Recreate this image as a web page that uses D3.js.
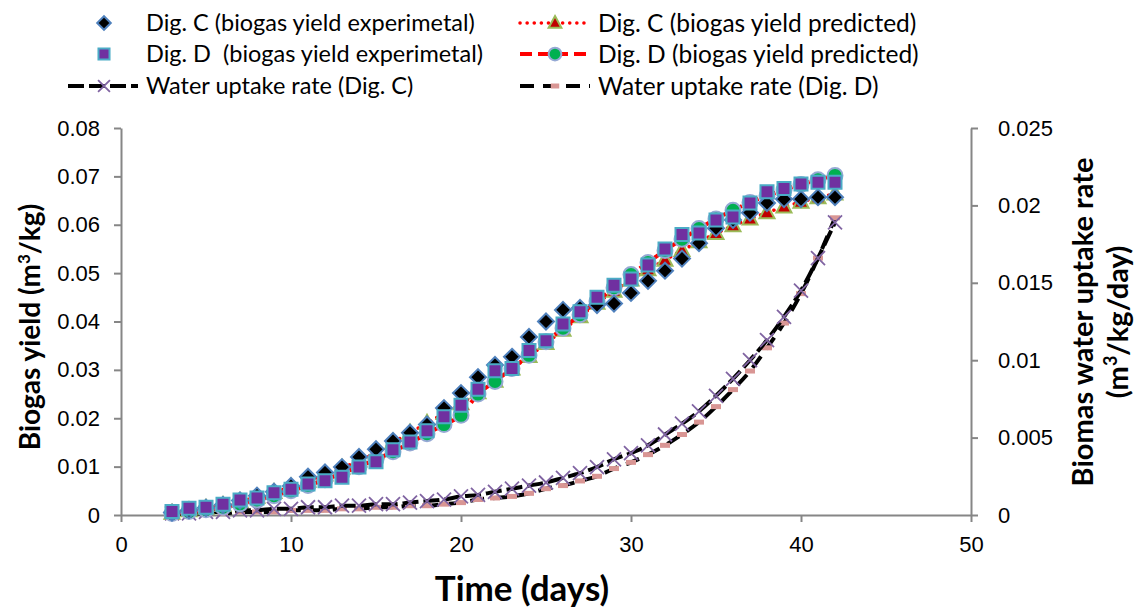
<!DOCTYPE html>
<html>
<head>
<meta charset="utf-8">
<script src="https://cdn.jsdelivr.net/npm/d3@7"></script>
<style>
  body { margin: 0; background: #fff; }
  svg { font-family: Lato, "Open Sans", sans-serif; }
  .axis path, .axis line { stroke: #868686; stroke-width: 2; }
  .axis text { font-size: 22px; fill: #000; }
  .legend text { white-space: pre; }
</style>
</head>
<body>
<svg id="chart"></svg>
<script>
// days 3..42
const days = d3.range(3, 43);

const digCExp = [0.0005, 0.001, 0.0015, 0.0021, 0.003, 0.004, 0.0048, 0.006, 0.0079, 0.0088,
  0.0099, 0.012, 0.0136, 0.0153, 0.017, 0.0187, 0.0221, 0.0252, 0.0285, 0.031,
  0.0327, 0.0368, 0.040, 0.0424, 0.0428, 0.0434, 0.0437, 0.0459, 0.0484, 0.0505,
  0.053, 0.0562, 0.0593, 0.061, 0.0625, 0.0645, 0.0653, 0.0653, 0.0657, 0.0657];

const digDExp = [0.0007, 0.0014, 0.0016, 0.0022, 0.0031, 0.0035, 0.0046, 0.0053, 0.0064, 0.0071,
  0.0078, 0.0099, 0.011, 0.0135, 0.0151, 0.0174, 0.0203, 0.0227, 0.026, 0.0298,
  0.0303, 0.034, 0.036, 0.0395, 0.042, 0.045, 0.0475, 0.0488, 0.0517, 0.055,
  0.058, 0.0583, 0.061, 0.0616, 0.0645, 0.0668, 0.0675, 0.0684, 0.0688, 0.0688];

const digCPred = [0.0004, 0.0009, 0.0014, 0.002, 0.0028, 0.0037, 0.0047, 0.0058, 0.007, 0.0083,
  0.0097, 0.0112, 0.0129, 0.015, 0.017, 0.019, 0.021, 0.023, 0.0253, 0.0277,
  0.0302, 0.0328, 0.0355, 0.0382, 0.041, 0.0438, 0.0463, 0.0486, 0.0507, 0.0527,
  0.0547, 0.0565, 0.0582, 0.0598, 0.0612, 0.0625, 0.0637, 0.0647, 0.0656, 0.0664];

const digDPred = [0.0003, 0.0007, 0.0011, 0.0016, 0.0023, 0.0031, 0.004, 0.005, 0.0061, 0.0073,
  0.0086, 0.01, 0.0115, 0.0131, 0.0149, 0.0168, 0.0187, 0.0206, 0.025, 0.0276,
  0.0303, 0.033, 0.0358, 0.0386, 0.0414, 0.0442, 0.047, 0.0497, 0.0522, 0.0547,
  0.057, 0.0592, 0.0612, 0.063, 0.0646, 0.066, 0.0672, 0.0683, 0.0693, 0.0702];

const waterC = [0.0001, 0.0001, 0.0002, 0.0002, 0.0003, 0.0003, 0.0004, 0.0004, 0.0005, 0.0005,
  0.0006, 0.0006, 0.0007, 0.0007, 0.0008, 0.0009, 0.001, 0.0012, 0.0013, 0.0015,
  0.0017, 0.0019, 0.0021, 0.0024, 0.0027, 0.0031, 0.0036, 0.004, 0.0045, 0.0052,
  0.0059, 0.0067, 0.0077, 0.0088, 0.01, 0.0113, 0.0128, 0.0145, 0.0166, 0.0189];

const waterD = [0.0, 0.0001, 0.0001, 0.0001, 0.0002, 0.0002, 0.0002, 0.0003, 0.0003, 0.0003,
  0.0004, 0.0004, 0.0005, 0.0005, 0.0006, 0.0006, 0.0007, 0.0008, 0.001, 0.0011,
  0.0012, 0.0014, 0.0017, 0.0019, 0.0022, 0.0025, 0.003, 0.0034, 0.0039, 0.0045,
  0.0052, 0.006, 0.007, 0.0081, 0.0093, 0.0108, 0.0124, 0.0143, 0.0166, 0.0192];

const xTicks = [0, 10, 20, 30, 40, 50];
const yTicks = [0, 0.01, 0.02, 0.03, 0.04, 0.05, 0.06, 0.07, 0.08];
const y2Ticks = [0, 0.005, 0.01, 0.015, 0.02, 0.025];

const legendLabels = [
  "Dig. C (biogas yield experimetal)", "Dig. C (biogas yield predicted)",
  "Dig. D  (biogas yield experimetal)", "Dig. D (biogas yield predicted)",
  "Water uptake rate (Dig. C)", "Water uptake rate (Dig. D)"
];

const width = 1141, height = 607;
const margin = {top: 128, right: 170, bottom: 92, left: 121};
const innerW = width - margin.left - margin.right;
const innerH = height - margin.top - margin.bottom;

const svg = d3.select("#chart").attr("width", width).attr("height", height);
const g = svg.append("g").attr("transform", `translate(${margin.left},${margin.top})`);

const x = d3.scaleLinear().domain([0, 50]).range([0, innerW]);
const y = d3.scaleLinear().domain([0, 0.08]).range([innerH, 0]);
const y2 = d3.scaleLinear().domain([0, 0.025]).range([innerH, 0]);

// axes
g.append("g").attr("class", "axis")
  .call(d3.axisLeft(y).tickValues(yTicks).tickSize(7).tickSizeOuter(0).tickPadding(14)
    .tickFormat(d => d === 0 ? "0" : d3.format(".2f")(d)));
g.append("g").attr("class", "axis").attr("transform", `translate(${innerW},0)`)
  .call(d3.axisRight(y2).tickValues(y2Ticks).tickSize(7).tickSizeOuter(0).tickPadding(20)
    .tickFormat(d => d === 0 ? "0" : String(+d.toFixed(3))));
g.append("g").attr("class", "axis").attr("transform", `translate(0,${innerH})`)
  .call(d3.axisBottom(x).tickValues(xTicks).tickSize(7).tickSizeOuter(0).tickPadding(14));

// marker shapes
const shapes = {
  diamond: s => `M0,${-s}L${s},0L0,${s}L${-s},0Z`,
  square: s => `M${-s},${-s}H${s}V${s}H${-s}Z`,
  triangle: s => `M0,${-s * 1.1}L${s},${s * 0.75}L${-s},${s * 0.75}Z`,
  circle: s => `M${s},0A${s},${s} 0 1,1 ${-s},0A${s},${s} 0 1,1 ${s},0Z`,
  cross: s => `M${-s},${-s}L${s},${s}M${-s},${s}L${s},${-s}`,
  dash: s => `M${-s},${-2.5}H${s}V2.5H${-s}Z`
};

const series = [
  {name: "waterD", values: waterD, scale: y2, line: {stroke: "#000", width: 4, dash: "14,9"},
   marker: {shape: "dash", size: 5, fill: "#d99694", stroke: "none", sw: 0}},
  {name: "waterC", values: waterC, scale: y2, line: {stroke: "#000", width: 4, dash: "16,5"},
   marker: {shape: "cross", size: 7, fill: "none", stroke: "#8064a2", sw: 1.8}},
  {name: "digCPred", values: digCPred, scale: y, line: {stroke: "#ff0000", width: 3.5, dash: "0.1,7", cap: "round"},
   marker: {shape: "triangle", size: 7.5, fill: "#c00000", stroke: "#9bbb59", sw: 2}},
  {name: "digDPred", values: digDPred, scale: y, line: {stroke: "#ff0000", width: 4, dash: "12,6"},
   marker: {shape: "circle", size: 7.5, fill: "#00b050", stroke: "#95a9d4", sw: 2}},
  {name: "digCExp", values: digCExp, scale: y, line: null,
   marker: {shape: "diamond", size: 8, fill: "#000", stroke: "#4f81bd", sw: 2}},
  {name: "digDExp", values: digDExp, scale: y, line: null,
   marker: {shape: "square", size: 6.5, fill: "#7030a0", stroke: "#4bacc6", sw: 2}}
];

series.forEach(s => {
  const pts = days.map((d, i) => [d, s.values[i]]);
  if (s.line) {
    g.append("path")
      .datum(pts)
      .attr("fill", "none")
      .attr("stroke", s.line.stroke)
      .attr("stroke-width", s.line.width)
      .attr("stroke-dasharray", s.line.dash)
      .attr("stroke-linecap", s.line.cap || "butt")
      .attr("d", d3.line().curve(d3.curveMonotoneX).x(p => x(p[0])).y(p => s.scale(p[1])));
  }
  g.append("g").selectAll("path")
    .data(pts)
    .join("path")
      .attr("transform", p => `translate(${x(p[0])},${s.scale(p[1])})`)
      .attr("d", shapes[s.marker.shape](s.marker.size))
      .attr("fill", s.marker.fill)
      .attr("stroke", s.marker.stroke)
      .attr("stroke-width", s.marker.sw);
});

// axis titles
svg.append("text")
  .attr("transform", `translate(40,327) rotate(-90)`)
  .attr("text-anchor", "middle").attr("font-size", 28).attr("font-weight", "bold")
  .html('Biogas yield (m<tspan baseline-shift="super" font-size="17">3</tspan>/kg)');
svg.append("text")
  .attr("transform", `translate(1093,322) rotate(-90)`)
  .attr("text-anchor", "middle").attr("font-size", 29).attr("font-weight", "bold")
  .text("Biomas water uptake rate");
svg.append("text")
  .attr("transform", `translate(1128,322) rotate(-90)`)
  .attr("text-anchor", "middle").attr("font-size", 29).attr("font-weight", "bold")
  .html('(m<tspan baseline-shift="super" font-size="18">3</tspan>/kg/day)');
svg.append("text")
  .attr("x", 522).attr("y", 601)
  .attr("text-anchor", "middle").attr("font-size", 35).attr("font-weight", "bold")
  .text("Time (days)");

// legend
const legendOrder = [4, 2, 5, 3, 1, 0]; // series index per legend cell
const rowY = [23, 54, 86];
const colX = [{line0: 68, mid: 104, line1: 138, text: 146}, {line0: 520, mid: 555, line1: 590, text: 598}];
legendLabels.forEach((label, i) => {
  const s = series[legendOrder[i]];
  const c = colX[i % 2], ry = rowY[Math.floor(i / 2)];
  const lg = svg.append("g").attr("class", "legend");
  if (s.line) {
    lg.append("line").attr("x1", c.line0).attr("x2", c.line1).attr("y1", ry).attr("y2", ry)
      .attr("stroke", s.line.stroke).attr("stroke-width", s.line.width)
      .attr("stroke-dasharray", s.line.dash).attr("stroke-linecap", s.line.cap || "butt");
  }
  lg.append("path").attr("transform", `translate(${c.mid},${ry})`)
    .attr("d", shapes[s.marker.shape](s.marker.size * 0.85))
    .attr("fill", s.marker.fill).attr("stroke", s.marker.stroke).attr("stroke-width", s.marker.sw);
  lg.append("text").attr("x", c.text).attr("y", ry).attr("dy", "0.35em")
    .attr("font-size", i % 2 ? 24.5 : 23.5).text(label);
});
</script>
</body>
</html>
